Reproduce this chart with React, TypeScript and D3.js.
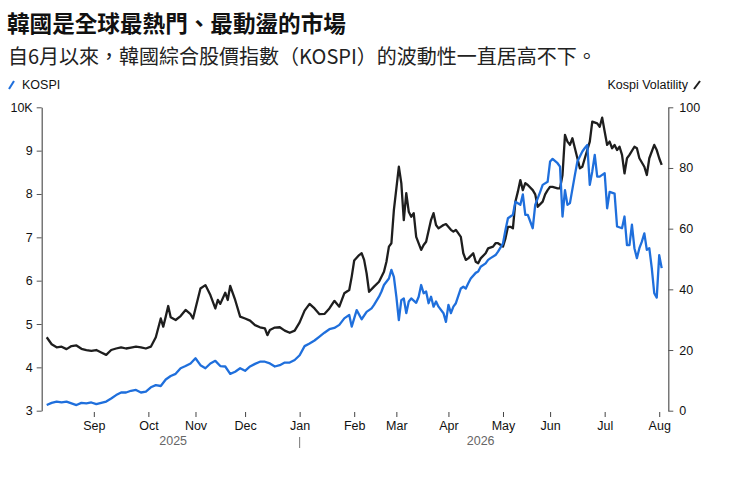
import * as d3 from "d3";
import { useEffect, useRef } from "react";

// trading-session index (0 = first session shown) and readings
const kospiDay = [
  0, 2, 4, 6, 8, 10, 12, 14, 16, 18, 20, 22, 24, 26, 28, 30, 32, 34, 36, 38, 40, 42, 44, 46, 48, 50,
  52, 54, 56, 58, 60, 62, 64, 66, 68, 70, 72, 74, 76, 78, 80, 82, 84, 86, 88, 90, 92, 94, 96, 98, 100,
  102, 104, 106, 108, 110, 112, 114, 116, 118, 120, 122, 123, 125, 127, 129, 131, 132, 134, 135, 136,
  138, 139, 140, 141, 142, 143, 144, 145, 146, 147, 149, 150, 151, 152, 153, 154, 155, 156, 157, 158,
  160, 161, 162, 163, 164, 165, 167, 168, 169, 170, 171, 173, 174, 175, 177, 178, 179, 181, 182, 184,
  185, 186, 187, 188, 189, 191, 192, 193, 194, 196, 197, 199, 200, 202, 203, 204, 206, 207, 208, 209,
  210, 211, 213, 214, 216, 217, 218, 219, 220, 221, 222, 223, 225, 226, 227, 229, 230, 232, 233, 234,
  235, 236, 237, 238, 239, 240, 241, 242, 243, 244, 245, 246, 247, 248,
];
const kospiValue = [
  3.13, 3.18, 3.21, 3.19, 3.21, 3.17, 3.13, 3.18, 3.17, 3.19, 3.15, 3.18, 3.21, 3.28, 3.36, 3.42, 3.42,
  3.46, 3.48, 3.42, 3.44, 3.54, 3.59, 3.57, 3.72, 3.8, 3.85, 3.98, 4.03, 4.09, 4.21, 4.05, 3.98, 4.09,
  4.15, 4.03, 4.02, 3.85, 3.9, 3.98, 3.92, 4.02, 4.08, 4.13, 4.13, 4.09, 4.02, 4.05, 4.11, 4.11, 4.17,
  4.28, 4.49, 4.55, 4.62, 4.71, 4.8, 4.88, 4.91, 4.98, 5.13, 5.21, 4.94, 5.32, 5.11, 5.28, 5.36, 5.44,
  5.63, 5.75, 5.9, 6.05, 6.25, 6.09, 5.63, 5.09, 5.55, 5.59, 5.25, 5.52, 5.59, 5.49, 5.63, 5.9, 5.71,
  5.75, 5.48, 5.63, 5.4, 5.52, 5.4, 5.25, 5.05, 5.44, 5.25, 5.4, 5.48, 5.82, 5.86, 5.82, 5.94, 6.05,
  6.18, 6.21, 6.32, 6.4, 6.48, 6.52, 6.59, 6.67, 6.86, 7.17, 7.44, 7.48, 7.52, 7.82, 7.75, 7.99, 7.52,
  7.52, 7.21, 7.75, 8.05, 8.21, 8.28, 8.75, 8.81, 8.71, 8.63, 7.48, 8.09, 7.75, 7.79, 8.44, 8.75, 8.98,
  9.06, 9.13, 8.21, 8.52, 8.9, 8.4, 8.4, 8.48, 7.67, 8.05, 8.01, 7.25, 7.21, 7.48, 6.82, 6.82, 7.29,
  6.75, 6.52, 6.75, 6.9, 7.09, 6.71, 6.75, 6.29, 5.71, 5.61, 6.59, 6.29,
];

const volDay = [
  0, 2, 4, 6, 8, 10, 12, 14, 16, 18, 20, 22, 24, 26, 28, 30, 32, 34, 36, 38, 40, 42, 44, 46, 47, 48,
  49, 50, 52, 54, 56, 58, 59, 60, 62, 64, 66, 68, 69, 70, 72, 73, 74, 76, 78, 80, 82, 84, 86, 88, 89,
  90, 92, 94, 96, 98, 100, 102, 104, 106, 108, 110, 112, 114, 116, 118, 120, 122, 123, 124, 126, 127,
  128, 129, 130, 132, 134, 136, 137, 138, 139, 140, 142, 143, 144, 145, 146, 147, 148, 149, 151, 152,
  153, 155, 156, 157, 158, 160, 161, 163, 164, 165, 167, 168, 169, 170, 172, 173, 174, 175, 177, 178,
  180, 181, 182, 184, 185, 186, 187, 188, 189, 190, 191, 192, 193, 194, 196, 197, 198, 200, 201, 202,
  203, 204, 206, 207, 208, 209, 210, 211, 212, 213, 214, 215, 216, 217, 219, 220, 222, 223, 224, 225,
  226, 227, 228, 229, 230, 231, 232, 233, 234, 235, 237, 238, 239, 241, 242, 243, 245, 246, 247, 248,
];
const volValue = [
  24.2, 21.9, 20.9, 21.1, 20.3, 21.3, 21.5, 20.4, 20.0, 19.7, 20.0, 19.2, 18.4, 20.0, 20.5, 20.9, 20.5,
  20.8, 21.1, 20.9, 20.5, 21.1, 24.2, 30.4, 27.7, 31.0, 34.5, 30.8, 29.9, 31.2, 33.2, 31.8, 30.4, 33.7,
  40.3, 41.4, 38.1, 33.7, 36.5, 35.2, 38.9, 36.5, 41.1, 36.5, 31.0, 30.4, 29.7, 28.2, 27.5, 27.1, 24.9,
  26.6, 27.4, 27.5, 26.4, 25.7, 26.4, 29.1, 33.0, 35.2, 33.7, 31.8, 31.9, 33.7, 36.2, 34.3, 38.7, 39.8,
  44.2, 49.5, 51.3, 51.9, 49.7, 45.3, 39.2, 40.9, 42.5, 45.8, 49.1, 54.1, 55.2, 66.1, 80.4, 75.0, 62.8,
  71.7, 65.6, 63.9, 65.1, 57.3, 53.0, 54.6, 55.7, 62.9, 65.1, 61.2, 60.1, 61.2, 61.5, 59.6, 59.0, 59.6,
  57.3, 51.9, 49.7, 50.2, 51.9, 49.1, 48.6, 50.2, 51.9, 53.5, 54.1, 55.2, 55.2, 54.1, 56.8, 60.6, 60.6,
  60.1, 68.9, 72.2, 76.0, 72.7, 75.0, 74.4, 72.7, 71.3, 67.2, 68.9, 71.3, 72.7, 73.8, 73.8, 73.3, 73.3,
  77.7, 90.9, 88.7, 87.6, 89.8, 86.5, 83.2, 79.9, 80.4, 83.2, 88.7, 95.3, 94.7, 93.6, 96.6, 92.0, 87.6,
  88.7, 86.5, 87.6, 85.9, 87.0, 84.3, 78.2, 83.2, 84.3, 87.0, 86.5, 83.2, 80.4, 77.7, 83.2, 87.6, 85.9,
  83.2, 81.0,
];

const monthLabels = ["Sep", "Oct", "Nov", "Dec", "Jan", "Feb", "Mar", "Apr", "May", "Jun", "Jul", "Aug"];
const monthDay = [19, 41, 60, 80, 102, 124, 141, 162, 184, 203, 225, 247];
const kospiTicks = [3, 4, 5, 6, 7, 8, 9, 10];
const volTicks = [0, 20, 40, 60, 80, 100];
const yearLabels = ["2025", "2026"];
const yearSpan = [[0, 102], [102, 248]];

const title = "韓國是全球最熱門、最動盪的市場";
const subtitle = "自6月以來，韓國綜合股價指數（KOSPI）的波動性一直居高不下。";

export default function App() {
  const svgRef = useRef<SVGSVGElement | null>(null);

  useEffect(() => {
    const width = 732;
    const height = 502;
    const left = 41.7;
    const right = 668.3;
    const top = 107.3;
    const bottom = 410.7;
    const narrow = "'Liberation Sans Narrow', 'Arial Narrow', 'Liberation Sans', sans-serif";
    const cjk = "'Noto Sans CJK TC', 'Noto Sans CJK SC', sans-serif";
    const blue = "#1f6fdc";
    const black = "#1e1e1e";

    const svg = d3.select(svgRef.current);
    svg.selectAll("*").remove();
    svg.attr("width", width).attr("height", height);

    const x = d3.scaleLinear().domain([0, 248]).range([46.7, 661.7]);
    const yK = d3.scaleLinear().domain([3, 10]).range([bottom, top]);
    const yV = d3.scaleLinear().domain([0, 100]).range([bottom, top]);

    // titles
    svg.append("text").attr("x", 7).attr("y", 32).attr("font-family", cjk)
      .attr("font-size", 22.6).attr("font-weight", 700).attr("fill", "#111").text(title);
    svg.append("text").attr("x", 8).attr("y", 64).attr("font-family", cjk)
      .attr("font-size", 20).attr("fill", "#222").text(subtitle);

    // legend
    svg.append("line").attr("x1", 9).attr("y1", 89).attr("x2", 14).attr("y2", 81)
      .attr("stroke", blue).attr("stroke-width", 2);
    svg.append("text").attr("x", 22).attr("y", 89).attr("font-family", narrow)
      .attr("font-size", 12.5).attr("fill", "#111").text("KOSPI");
    svg.append("text").attr("x", 688).attr("y", 89).attr("text-anchor", "end")
      .attr("font-family", narrow).attr("font-size", 12.5).attr("fill", "#111").text("Kospi Volatility");
    svg.append("line").attr("x1", 694).attr("y1", 89).attr("x2", 700).attr("y2", 81)
      .attr("stroke", black).attr("stroke-width", 2);

    // left axis
    const gL = svg.append("g").attr("transform", `translate(${left},0)`)
      .call(d3.axisLeft(yK).tickValues(kospiTicks).tickSize(5).tickSizeOuter(0).tickPadding(4)
        .tickFormat((d) => (d === 10 ? "10K" : String(d))));
    // right axis
    const gR = svg.append("g").attr("transform", `translate(${right},0)`)
      .call(d3.axisRight(yV).tickValues(volTicks).tickSize(5).tickSizeOuter(0).tickPadding(6));
    [gL, gR].forEach((g) => {
      g.select(".domain").attr("stroke", "#555").attr("stroke-width", 1.2);
      g.selectAll(".tick line").attr("stroke", "#555");
      g.selectAll("text").attr("font-family", narrow).attr("font-size", 12.5).attr("fill", "#111");
    });

    // x axis
    const gX = svg.append("g").attr("transform", "translate(0,412)")
      .call(d3.axisBottom(x).tickValues(monthDay).tickSize(5).tickPadding(4)
        .tickFormat((_, i) => monthLabels[i]));
    gX.select(".domain").remove();
    gX.selectAll(".tick line").attr("stroke", "#444");
    gX.selectAll("text").attr("font-family", narrow).attr("font-size", 12.5).attr("fill", "#111");

    yearLabels.forEach((label, i) => {
      svg.append("text").attr("x", x((yearSpan[i][0] + yearSpan[i][1]) / 2)).attr("y", 445)
        .attr("text-anchor", "middle").attr("font-family", narrow).attr("font-size", 12.5)
        .attr("fill", "#666").text(label);
    });
    svg.append("line").attr("x1", x(yearSpan[1][0])).attr("x2", x(yearSpan[1][0]))
      .attr("y1", 437).attr("y2", 448).attr("stroke", "#777");

    // lines
    const volLine = d3.line<number>().x((_, i) => x(volDay[i])).y((d) => yV(d));
    const kospiLine = d3.line<number>().x((_, i) => x(kospiDay[i])).y((d) => yK(d));

    svg.append("path").datum(volValue).attr("d", volLine).attr("fill", "none")
      .attr("stroke", black).attr("stroke-width", 2.3).attr("stroke-linejoin", "round");
    svg.append("path").datum(kospiValue).attr("d", kospiLine).attr("fill", "none")
      .attr("stroke", blue).attr("stroke-width", 2.3).attr("stroke-linejoin", "round");
  }, []);

  return (
    <div style={{ position: "absolute", left: 0, top: 0 }}>
      <svg ref={svgRef}></svg>
    </div>
  );
}
